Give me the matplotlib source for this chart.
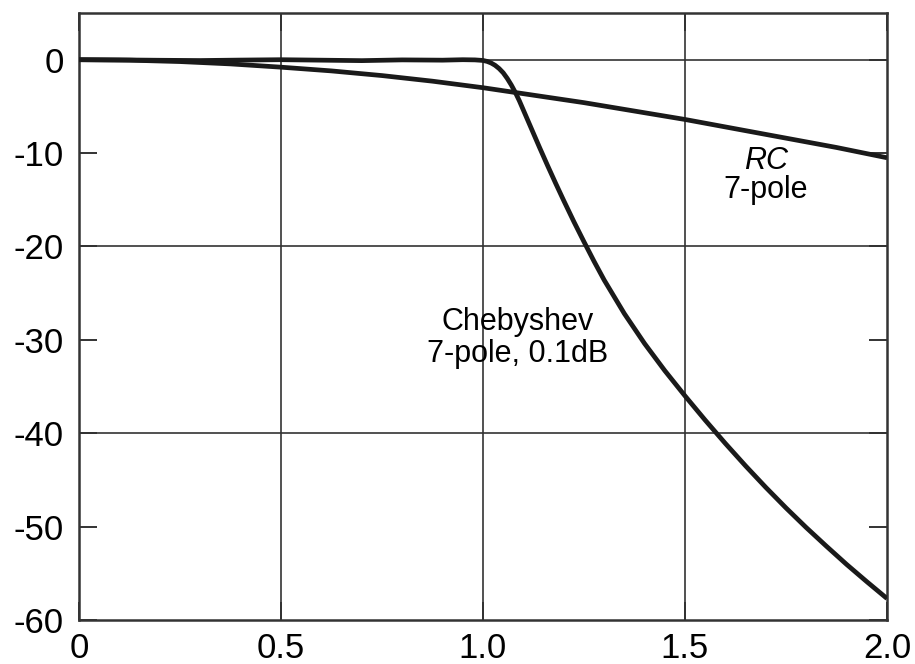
import matplotlib
matplotlib.use("Agg")
import matplotlib.pyplot as plt

# Normalized frequency (f / fc)
rc_freq = [0.0, 0.125, 0.25, 0.375, 0.5, 0.625, 0.75, 0.875, 1.0, 1.125, 1.25,
           1.375, 1.5, 1.625, 1.75, 1.875, 2.0]
rc_gain = [0.0, -0.05, -0.2, -0.45, -0.8, -1.2, -1.7, -2.3, -3.0, -3.8, -4.6,
           -5.5, -6.4, -7.4, -8.4, -9.4, -10.5]

cheb_freq = [0.0, 0.1, 0.2, 0.3, 0.4, 0.5, 0.6, 0.7, 0.8, 0.9, 0.95, 0.98, 1.0,
             1.01, 1.02, 1.03, 1.04, 1.05, 1.06, 1.07, 1.08, 1.09, 1.1, 1.12, 1.14,
             1.16, 1.18, 1.2, 1.225, 1.25, 1.275, 1.3, 1.35, 1.4,
             1.45, 1.5, 1.55, 1.6, 1.65, 1.7, 1.75, 1.8, 1.85, 1.9, 1.95, 2.0]
cheb_gain = [0.0, -0.02, -0.06, -0.09, -0.04, 0.0, -0.05, -0.1, -0.02, -0.05, 0.0, -0.02, -0.08,
             -0.18, -0.35, -0.6, -0.95, -1.4, -2.0, -2.7, -3.5, -4.4, -5.4, -7.4, -9.4,
             -11.35, -13.25, -15.1, -17.35, -19.5, -21.6, -23.6, -27.2, -30.4,
             -33.3, -36.0, -38.6, -41.1, -43.5, -45.8, -48.0, -50.1, -52.1, -54.05, -55.9, -57.7]

x_ticks = [0, 0.5, 1.0, 1.5, 2.0]
x_tick_labels = ["0", "0.5", "1.0", "1.5", "2.0"]
y_ticks = [0, -10, -20, -30, -40, -50, -60]
y_tick_labels = ["0", "-10", "-20", "-30", "-40", "-50", "-60"]
x_grid = [0.5, 1.0, 1.5]
y_grid = [0, -20, -40]

plt.rcParams['font.family'] = ['Liberation Sans', 'DejaVu Sans']

fig = plt.figure(figsize=(9.15, 6.64), dpi=100)
ax = fig.add_axes([0.0863, 0.0663, 0.8831, 0.9141])

for xv in x_grid:
    ax.axvline(xv, color='#333333', lw=1.2, zorder=1)
for yv in y_grid:
    ax.axhline(yv, color='#333333', lw=1.2, zorder=1)

ax.plot(rc_freq, rc_gain, color='#1a1a1a', lw=3.4, solid_capstyle='butt',
        solid_joinstyle='round', zorder=3)
ax.plot(cheb_freq, cheb_gain, color='#1a1a1a', lw=3.4, solid_capstyle='butt',
        solid_joinstyle='round', zorder=3)

ax.set_xlim(0, 2.0)
ax.set_ylim(-60, 5)
ax.set_xticks(x_ticks)
ax.set_xticklabels(x_tick_labels)
ax.set_yticks(y_ticks)
ax.set_yticklabels(y_tick_labels)
ax.tick_params(direction='in', length=13, width=1.4, color='#333333',
               labelsize=25, top=True, right=True, pad=11)
ax.tick_params(axis='x', pad=9)
for s in ax.spines.values():
    s.set_linewidth(1.8)
    s.set_color('#333333')

ax.text(1.70, -10.8, "RC", fontsize=22, style='italic', ha='center', va='center')
ax.text(1.70, -13.9, "7-pole", fontsize=22, ha='center', va='center')
ax.text(1.085, -28.1, "Chebyshev", fontsize=22, ha='center', va='center')
ax.text(1.085, -31.5, "7-pole, 0.1dB", fontsize=22, ha='center', va='center')

fig.savefig("out.png", dpi=100)
